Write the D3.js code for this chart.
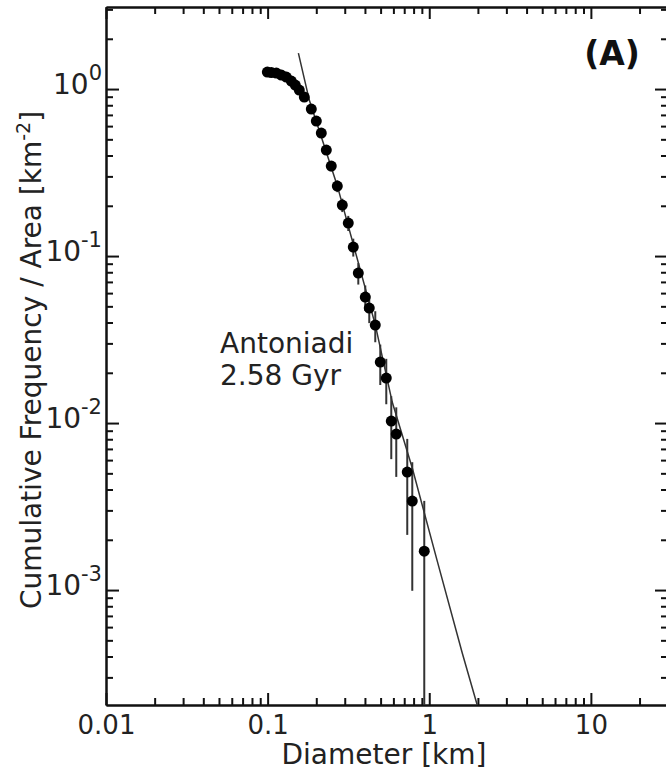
<!DOCTYPE html>
<html>
<head>
<meta charset="utf-8">
<script src="https://cdn.jsdelivr.net/npm/d3@7"></script>
<style>
  body { margin: 0; background: #fff; }
  svg { display: block; font-family: "DejaVu Sans", sans-serif; }
  .axis path, .axis line { stroke: #111; stroke-width: 2; }
  .axis text { font-family: "DejaVu Sans", sans-serif; fill: #222; }
  .axis--x text { font-size: 26px; }
  .axis--y text { font-size: 28px; }
  .chart__title { font-size: 28px; fill: #222; }
  .chart__note { font-size: 28px; fill: #222; }
  .chart__panel { font-size: 33px; font-weight: bold; fill: #111; }
  .chart__fit { fill: none; stroke: #333; stroke-width: 1.5; }
  .chart__err { stroke: #333; stroke-width: 2; }
  .chart__dot { fill: #000; }
</style>
</head>
<body>
<svg id="chart" width="666" height="772"></svg>
<script>
// crater diameters [km] and cumulative frequency per area [km^-2]
const diameters = [0.0996, 0.1054, 0.1132, 0.1215, 0.1305, 0.1401, 0.1483, 0.157, 0.1686,
  0.1863, 0.2001, 0.2148, 0.2307, 0.2476, 0.2698, 0.2897, 0.3155, 0.3388, 0.3639, 0.4019,
  0.4254, 0.4634, 0.4977, 0.5421, 0.5821, 0.625, 0.7309, 0.7851, 0.9313];
const frequency = [1.264, 1.255, 1.247, 1.213, 1.18, 1.117, 1.057, 0.986, 0.896,
  0.759, 0.643, 0.545, 0.431, 0.346, 0.2625, 0.202, 0.1576, 0.1132, 0.0791, 0.0568,
  0.0488, 0.0386, 0.0232, 0.0186, 0.01028, 0.00859, 0.00509, 0.00341, 0.00171];
const errors = [0.0465, 0.0464, 0.0462, 0.0456, 0.045, 0.0437, 0.0425, 0.0411, 0.0392,
  0.036, 0.0332, 0.0305, 0.0272, 0.0243, 0.0212, 0.0186, 0.0164, 0.0139, 0.0116, 0.00986,
  0.00914, 0.00813, 0.0063, 0.00564, 0.0042, 0.00383, 0.00295, 0.00242, 0.00171];

// isochron fit
const fitDiameters = [0.155, 0.181, 0.27, 0.464, 0.59, 0.785, 1.121, 1.6, 1.98];
const fitFrequency = [1.643, 0.859, 0.263, 0.0386, 0.01336, 0.00538, 0.00149, 0.00042, 0.000205];

const xMajor = [0.01, 0.1, 1, 10];
const yMajor = [1e-3, 1e-2, 1e-1, 1];

const chart = d3.select('#chart');
const plotLeft = 106, plotRight = 668, plotTop = 7, plotBottom = 705;

const x = d3.scaleLog().domain([0.01, 30]).range([plotLeft, plotRight]);
const y = d3.scaleLog().domain([2.05e-4, 3.1]).range([plotBottom, plotTop]);

function minorTicks(scale) {
  const [a, b] = scale.domain();
  const out = [];
  for (let e = Math.floor(Math.log10(a)); e <= Math.ceil(Math.log10(b)); e++) {
    for (let k = 2; k <= 9; k++) {
      const v = k * Math.pow(10, e);
      if (v >= a && v <= b) out.push(v);
    }
  }
  return out;
}

const sides = [
  { make: d3.axisBottom, scale: x, pos: `translate(0,${plotBottom})`, cls: 'axis--x', major: xMajor, len: 12, labels: true },
  { make: d3.axisTop, scale: x, pos: `translate(0,${plotTop})`, cls: 'axis--x', major: xMajor, len: 12 },
  { make: d3.axisLeft, scale: y, pos: `translate(${plotLeft},0)`, cls: 'axis--y', major: yMajor, len: 13, labels: true },
  { make: d3.axisRight, scale: y, pos: `translate(${plotRight},0)`, cls: 'axis--y', major: yMajor, len: 13 }
];

sides.forEach(s => {
  // minor ticks, inward
  chart.append('g')
    .attr('class', 'axis ' + s.cls)
    .attr('transform', s.pos)
    .call(s.make(s.scale).tickValues(minorTicks(s.scale)).tickSize(-7).tickSizeOuter(0).tickFormat(''));

  const g = chart.append('g')
    .attr('class', 'axis ' + s.cls)
    .attr('transform', s.pos)
    .call(s.make(s.scale).tickValues(s.major).tickSize(-s.len).tickSizeOuter(0)
      .tickPadding(s.cls === 'axis--x' ? 11 : 4)
      .tickFormat(s.labels ? d3.format('') : ''));

  if (s.labels && s.cls === 'axis--y') {
    g.selectAll('.tick text').each(function(d) {
      const t = d3.select(this).attr('dy', '0.15em').text('10');
      t.append('tspan').attr('dy', -14).style('font-size', '21px').text(Math.round(Math.log10(d)));
    });
  }
});

// fit line
const line = d3.line().x((d, i) => x(fitDiameters[i])).y(d => y(d));
chart.append('path').attr('class', 'chart__fit').attr('d', line(fitFrequency));

// error bars, lower end clipped to the axis
chart.append('g').selectAll('line')
  .data(frequency)
  .join('line')
  .attr('class', 'chart__err')
  .attr('x1', (d, i) => x(diameters[i]))
  .attr('x2', (d, i) => x(diameters[i]))
  .attr('y1', (d, i) => y(d + errors[i]))
  .attr('y2', (d, i) => d - errors[i] > y.domain()[0] ? y(d - errors[i]) : plotBottom);

chart.append('g').selectAll('circle')
  .data(frequency)
  .join('circle')
  .attr('class', 'chart__dot')
  .attr('cx', (d, i) => x(diameters[i]))
  .attr('cy', d => y(d))
  .attr('r', 5.5);

// titles
chart.append('text')
  .attr('class', 'chart__title')
  .attr('x', 384)
  .attr('y', 764)
  .attr('text-anchor', 'middle')
  .text('Diameter [km]');

const yt = chart.append('text')
  .attr('class', 'chart__title')
  .attr('transform', 'translate(41,360) rotate(-90)')
  .attr('text-anchor', 'middle');
yt.append('tspan').text('Cumulative Frequency / Area [km');
yt.append('tspan').attr('dy', -11).style('font-size', '19px').text('-2');
yt.append('tspan').attr('dy', 11).text(']');

chart.append('text').attr('class', 'chart__note').attr('x', 220).attr('y', 353).text('Antoniadi');
chart.append('text').attr('class', 'chart__note').attr('x', 220).attr('y', 385).text('2.58 Gyr');

chart.append('text')
  .attr('class', 'chart__panel')
  .attr('x', 612)
  .attr('y', 65)
  .attr('text-anchor', 'middle')
  .text('(A)');
</script>
</body>
</html>
